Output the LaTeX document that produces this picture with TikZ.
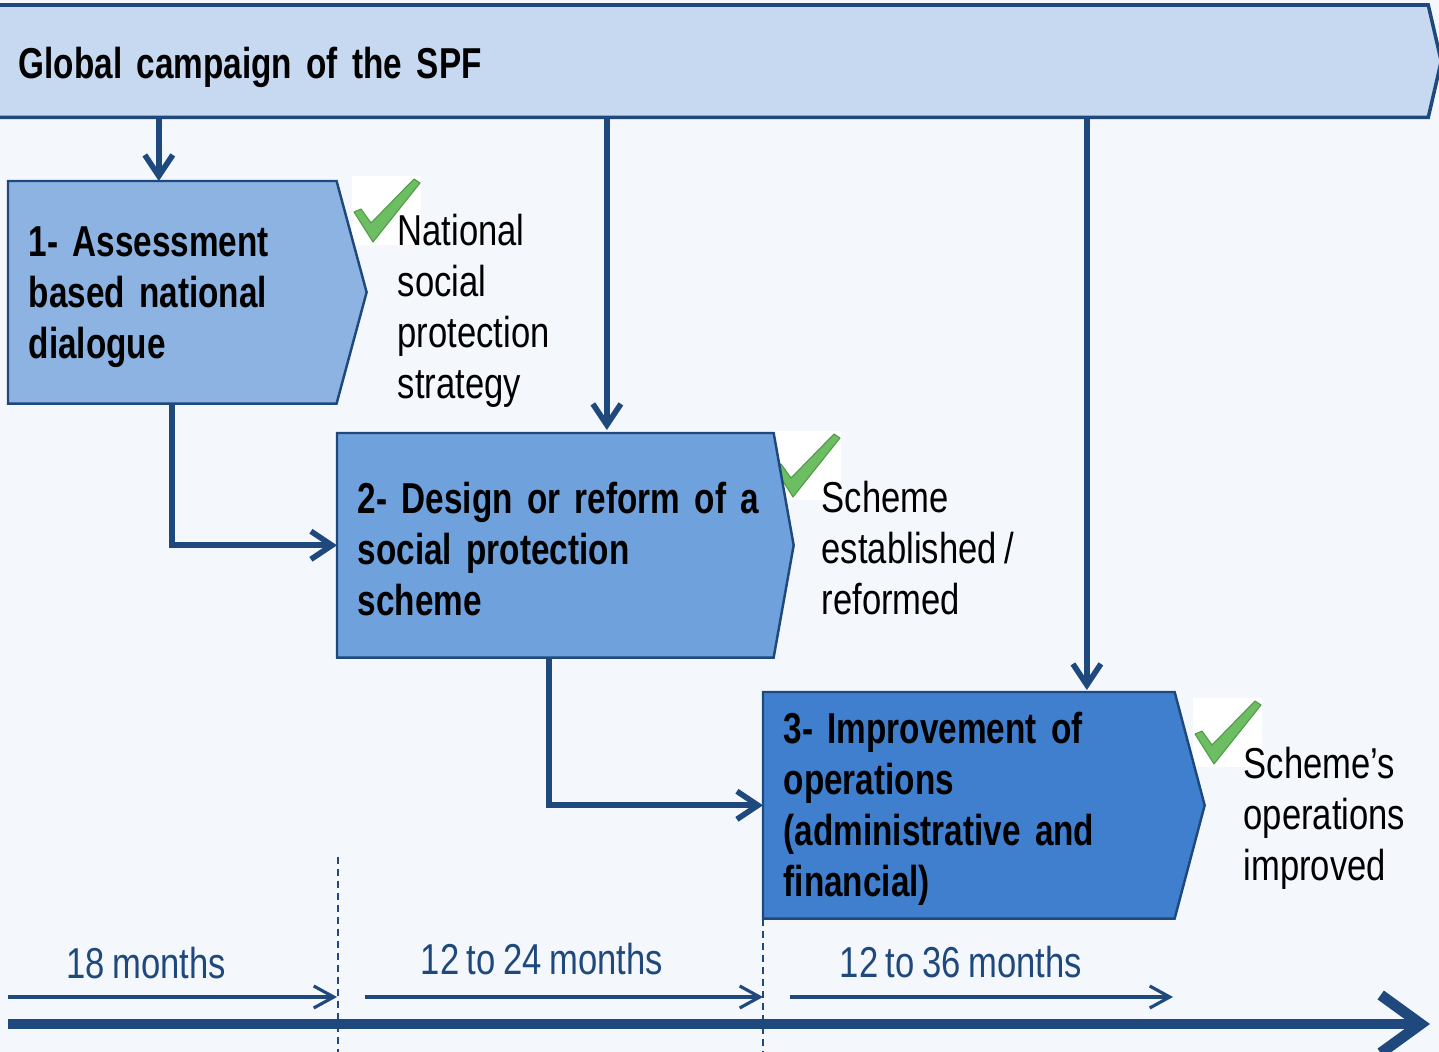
\documentclass[tikz,border=0pt]{standalone}
\usepackage{fontspec}
\setmainfont{Liberation Sans}[FakeStretch=0.8, WordSpace=0.8,
  BoldFeatures={FakeStretch=0.77}]
\usetikzlibrary{arrows.meta, positioning, backgrounds}

\definecolor{pagebg}{HTML}{F4F7FC}
\definecolor{navy}{HTML}{1F497D}
\definecolor{bannerfill}{HTML}{C6D9F1}
\definecolor{stageA}{HTML}{8DB3E2}
\definecolor{stageB}{HTML}{6FA1DC}
\definecolor{stageC}{HTML}{3F7FCE}
\definecolor{tickgreen}{HTML}{6DBE63}
\definecolor{tickedge}{HTML}{4F9B45}

\begin{document}
\begin{tikzpicture}[
  x=0.01cm, y=-0.01cm,
  txt/.style={font=\fontsize{12.3}{14.5}\selectfont},
  stage/.style={anchor=north west, inner sep=0pt, inner xsep=0.2cm, align=left,
    font=\bfseries\fontsize{12.3}{14.5}\selectfont},
  outline/.style={draw=navy, line width=0.7pt},
  flow/.style={draw=navy, line width=1.6pt, -{Straight Barb[length=2.1mm,width=2.8mm]}},
  span/.style={draw=navy, line width=0.9pt, -{Straight Barb[length=2mm,width=2.2mm]}},
  limit/.style={draw=navy, line width=0.45pt, dash pattern=on 0.07cm off 0.05cm},
  result/.style={anchor=north west, inner sep=0pt, align=left, txt},
  months/.style={anchor=base, inner sep=0pt, text=navy, txt},
  okmark/.pic={
    \fill[white] (0,0) rectangle (69,69);
    \filldraw[fill=tickgreen, draw=tickedge, line width=0.3pt, line join=round]
      (2,36) -- (9,33) -- (19,47) -- (62,3) -- (68,7) -- (21,66) -- cycle;
  }
]
\useasboundingbox (0,0) rectangle (1439,1052);

% Banner and stages
\node[stage, minimum width=14.26cm, minimum height=1.11cm, text width=13.9cm,
  inner xsep=0.18cm, text height=0.42cm, text depth=0.07cm] (campaign) at (0,5)
  {Global campaign of the SPF};
\node[stage, minimum height=2.21cm, text width=2.87cm] (assess) at (8,181)
  {\rule{0pt}{0.39cm}1- Assessment\\based national\\dialogue};
\node[stage, minimum height=2.23cm, text width=3.95cm] (design) at (337,433)
  {\rule{0pt}{0.39cm}\mbox{2- Design or reform of a}\\social protection\\scheme};
\node[stage, minimum height=2.25cm, text width=3.7cm] (improve) at (763,692)
  {\rule{0pt}{0.39cm}3- Improvement of\\operations\\(administrative and\\financial)};

\begin{pgfonlayer}{background}
  \fill[pagebg] (0,0) rectangle (1439,1052);
  \filldraw[draw=navy, line width=1pt, fill=bannerfill]
    ([xshift=-0.1cm]campaign.north west) -- (campaign.north east)
    -- ([xshift=0.13cm]campaign.east) -- (campaign.south east)
    -- ([xshift=-0.1cm]campaign.south west);
  \pic at (352,176) {okmark};
  \pic at (772,431) {okmark};
  \pic at (1193,698) {okmark};
  \filldraw[outline, fill=stageA] (assess.north west) -- (assess.north east)
    -- ([xshift=0.3cm]assess.east) -- (assess.south east) -- (assess.south west) -- cycle;
  \filldraw[outline, fill=stageB] (design.north west) -- (design.north east)
    -- ([xshift=0.2cm]design.east) -- (design.south east) -- (design.south west) -- cycle;
  \filldraw[outline, fill=stageC] (improve.north west) -- (improve.north east)
    -- ([xshift=0.3cm]improve.east) -- (improve.south east) -- (improve.south west) -- cycle;
\end{pgfonlayer}

% Results
\node[result] (strategy) at (397,213) {National\\social\\protection\\strategy};
\node[result] (scheme) at (821,480) {Scheme\\established /\\reformed};
\node[result] (operations) at (1243,746) {Scheme’s\\operations\\improved};

% Arrows
\draw[flow] ([xshift=-0.135cm]assess.north |- campaign.south) -- ([xshift=-0.135cm]assess.north);
\draw[flow] ([xshift=0.515cm]design.north |- campaign.south) -- ([xshift=0.515cm,yshift=0.03cm]design.north);
\draw[flow] ([xshift=1.18cm]improve.north |- campaign.south) -- ([xshift=1.18cm,yshift=0.02cm]improve.north);
\draw[flow] ([xshift=-0.005cm]assess.south) |- (design.west);
\draw[flow] ([xshift=-0.065cm]design.south) |- (improve.west);

% Timeline
\coordinate (mark1) at (338,857);
\coordinate (floor) at (338,1052);
\draw[limit] (mark1) -- (floor);
\draw[limit] (improve.south west) -- (improve.south west |- floor);

\coordinate (t0) at (8,997);
\coordinate (t1) at (337,997);
\coordinate (t2) at (365,997);
\coordinate (t3) at (763,997);
\coordinate (t4) at (790,997);
\coordinate (t5) at (1173,997);
\draw[span] (t0) -- (t1);
\draw[span] (t2) -- (t3);
\draw[span] (t4) -- (t5);

\node[months] (m1) at (146,978) {18 months};
\node[months] (m2) at (542,974) {12 to 24 months};
\node[months] (m3) at (961,977) {12 to 36 months};

\coordinate (axis0) at (8,1024);
\coordinate (axis1) at (1430,1024);
\draw[navy, line width=3.1pt, -{Straight Barb[length=4mm,width=5.8mm]}] (axis0) -- (axis1);
\end{tikzpicture}
\end{document}
